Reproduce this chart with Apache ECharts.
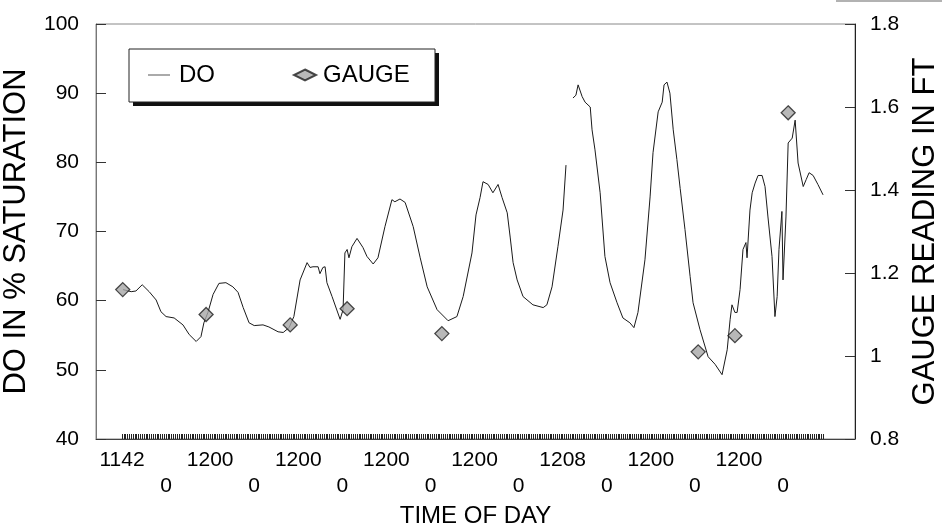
<!DOCTYPE html>
<html>
<head>
<meta charset="utf-8">
<script src="https://cdn.jsdelivr.net/npm/echarts@6/dist/echarts.min.js"></script>
<style>
  html, body { margin: 0; padding: 0; background: #fff; }
  #chart { width: 942px; height: 527px; }
</style>
</head>
<body>
<div id="chart"></div>
<script>
// Elapsed hours from the first reading, with dissolved oxygen (% saturation)
const doHours = [0.3,2.5,3.8,5.5,7.4,9.3,10.6,12.0,14.2,16.6,18.3,20.2,21.5,22.3,23.4,24.8,26.4,28.3,30.2,31.6,33.0,34.6,36.0,38.4,40.0,42.5,43.9,45.5,46.8,48.5,50.4,51.2,52.0,53.4,53.9,54.7,55.3,55.8,57.2,59.4,60.2,60.7,61.3,61.8,62.6,64.0,65.6,66.7,68.4,69.7,71.6,73.5,74.3,75.7,77.1,79.3,81.2,83.1,85.8,88.8,91.2,92.9,95.3,96.4,97.5,98.3,99.7,101.0,102.4,103.5,104.9,105.7,106.5,107.6,109.2,111.9,114.7,115.7,117.1,118.7,120.1,120.9,121.8,122.8,123.6,124.2,125.3,126.1,127.5,128.0,128.8,130.2,131.5,132.9,134.8,136.4,138.3,139.4,140.5,142.4,143.8,144.6,146.0,147.1,147.6,148.4,149.2,150.1,151.1,152.0,153.3,154.7,155.5,157.4,159.6,161.5,163.4,164.8,165.6,166.1,166.9,167.5,168.3,169.1,169.9,170.2,171.0,171.6,172.4,173.2,174.3,175.1,175.9,177.0,177.8,178.4,178.9,179.7,180.0,180.8,181.4,182.5,183.3,184.1,185.5,186.3,187.1,188.2,189.5,190.9];
const doValues = [61.6,61.3,61.4,62.3,61.3,60.1,58.4,57.7,57.5,56.5,55.1,54.1,54.8,56.8,58.3,60.9,62.5,62.6,62.0,61.2,59.0,56.8,56.4,56.5,56.2,55.5,55.4,56.1,57.7,63.0,65.5,64.8,64.9,64.9,63.9,64.8,64.9,62.6,60.6,57.3,58.7,66.9,67.4,66.2,67.8,69.0,67.7,66.4,65.3,66.2,70.7,74.6,74.3,74.7,74.2,70.7,66.2,62.0,58.7,57.1,57.7,60.6,66.9,72.4,74.9,77.2,76.8,75.6,76.8,74.9,72.7,69.2,65.5,63.0,60.6,59.4,59.0,59.4,62.0,67.8,73.1,79.6,null,89.3,89.7,91.2,89.5,88.7,88.0,84.7,81.8,75.6,66.4,62.6,59.7,57.5,56.8,56.1,58.3,65.9,75.0,81.4,87.3,88.7,91.2,91.6,90.0,84.7,80.4,76.2,70.3,63.5,59.7,55.8,51.9,50.8,49.3,52.9,57.3,59.4,58.3,58.3,61.6,67.4,68.4,66.2,73.1,75.6,77.0,78.1,78.1,76.5,72.1,66.4,57.7,60.6,67.4,72.9,63.0,72.1,82.8,83.5,86.1,79.9,76.5,77.5,78.5,78.1,76.8,75.3];

// Staff gauge readings (ft)
const gaugeHours = [0.2, 22.9, 45.8, 61.3, 87.1, 156.9, 166.9, 181.4];
const gaugeValues = [1.16, 1.10, 1.075, 1.114, 1.054, 1.01, 1.049, 1.586];

// Time-of-day labels, one every 12 hours, printed on two staggered rows
const timeLabelHours = [0, 12, 24, 36, 48, 60, 72, 84, 96, 108, 120, 132, 144, 156, 168, 180];
const timeLabels = ['1142', '0', '1200', '0', '1200', '0', '1200', '0', '1200', '0', '1208', '0', '1200', '0', '1200', '0'];

const FONT = '"Liberation Sans", Arial, sans-serif';

const doData = doHours.map((h, i) => [h, doValues[i]]);
const gaugeData = gaugeHours.map((h, i) => [h, gaugeValues[i]]);

// small reading marks along the time axis, every half hour
const readingMarks = [];
for (let h = 0; h <= 191; h += 0.5) readingMarks.push(h);

// legend frame with a solid drop shadow
const LEG = { x: 129, y: 49, w: 306, h: 53, shadow: 4 };

const chart = echarts.init(document.getElementById('chart'), null, { renderer: 'canvas' });

chart.setOption({
  animation: false,
  backgroundColor: '#fff',
  textStyle: { fontFamily: FONT, color: '#000' },
  grid: {
    left: 96, right: 87, top: 24, bottom: 88,
    outerBoundsMode: 'none',
    containLabel: false,
    show: true, borderColor: '#888', borderWidth: 1
  },
  graphic: [
    {
      type: 'line',
      shape: { x1: 836, y1: 1, x2: 942, y2: 1 },
      style: { stroke: '#999', lineWidth: 1.5 },
      z: 1
    },
    {
      type: 'rect',
      shape: { x: LEG.x + LEG.shadow, y: LEG.y + LEG.shadow, width: LEG.w, height: LEG.h },
      style: { fill: '#111' },
      z: 5
    },
    {
      type: 'rect',
      shape: { x: LEG.x, y: LEG.y, width: LEG.w, height: LEG.h },
      style: { fill: '#fff', stroke: '#222', lineWidth: 1 },
      z: 6
    }
  ],
  legend: {
    left: LEG.x, top: LEG.y,
    padding: [14, 20, 14, 19],
    itemGap: 78,
    itemWidth: 22,
    itemHeight: 11,
    z: 10,
    textStyle: { fontFamily: FONT, fontSize: 24, color: '#000', padding: [0, 0, 0, 4] },
    data: [
      { name: 'DO', icon: 'path://M0,0H44V2H0Z', itemStyle: { color: '#555' } },
      { name: 'GAUGE', textStyle: { fontFamily: FONT, fontSize: 24, color: '#000', padding: [0, 0, 0, 2] } }
    ]
  },
  xAxis: {
    type: 'value',
    min: -7.08,
    max: 199.6,
    name: 'TIME OF DAY',
    nameLocation: 'middle',
    nameGap: 61,
    nameTextStyle: { fontFamily: FONT, fontSize: 24, color: '#000' },
    axisLine: { show: true, onZero: false, lineStyle: { color: '#444', width: 1 } },
    axisTick: {
      show: true, inside: true, length: 5,
      customValues: readingMarks,
      lineStyle: { color: '#222', width: 1 }
    },
    axisLabel: {
      customValues: timeLabelHours,
      fontFamily: FONT, fontSize: 21, color: '#000',
      lineHeight: 26, margin: 8,
      formatter: function (v) {
        const i = timeLabelHours.indexOf(Math.round(v));
        if (i < 0) return '';
        return i % 2 === 0 ? timeLabels[i] : '\n' + timeLabels[i];
      }
    },
    splitLine: { show: false }
  },
  yAxis: [
    {
      type: 'value',
      min: 40, max: 100, interval: 10,
      name: 'DO IN % SATURATION',
      nameLocation: 'middle',
      nameRotate: 90,
      nameGap: 64,
      nameTextStyle: { fontFamily: FONT, fontSize: 31, color: '#000' },
      axisLine: { show: true, onZero: false, lineStyle: { color: '#777', width: 1 } },
      axisTick: { show: true, inside: true, length: 10, lineStyle: { color: '#333' } },
      axisLabel: { fontFamily: FONT, fontSize: 21, color: '#000', margin: 17 },
      splitLine: { show: false }
    },
    {
      type: 'value',
      min: 0.8, max: 1.8, interval: 0.2,
      name: 'GAUGE READING IN FT',
      nameLocation: 'middle',
      nameRotate: 90,
      nameGap: 55,
      nameTextStyle: { fontFamily: FONT, fontSize: 31, color: '#000' },
      axisLine: { show: true, onZero: false, lineStyle: { color: '#222', width: 1 } },
      axisTick: { show: true, inside: true, length: 10, lineStyle: { color: '#333' } },
      axisLabel: {
        fontFamily: FONT, fontSize: 21, color: '#000', margin: 15,
        formatter: v => String(Math.round(v * 10) / 10)
      },
      splitLine: { show: false }
    }
  ],
  series: [
    {
      name: 'DO',
      type: 'line',
      yAxisIndex: 0,
      data: doData,
      symbol: 'none',
      connectNulls: false,
      lineStyle: { color: '#1a1a1a', width: 1 },
      itemStyle: { color: '#1a1a1a' },
      z: 2
    },
    {
      name: 'GAUGE',
      type: 'scatter',
      yAxisIndex: 1,
      data: gaugeData,
      symbol: 'diamond',
      symbolSize: 14,
      itemStyle: { color: '#a6a6a6', borderColor: '#1e1e1e', borderWidth: 1.3 },
      z: 3
    }
  ]
});
</script>
</body>
</html>
